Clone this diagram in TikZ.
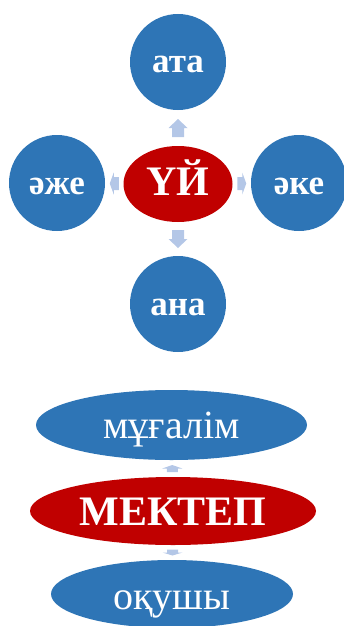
\documentclass[tikz,border=0pt]{standalone}
\usepackage{fontspec}
\setmainfont{Liberation Serif}
\usetikzlibrary{shapes.geometric,calc}
\definecolor{nodeblue}{HTML}{2E75B6}
\definecolor{nodered}{HTML}{C00000}
\definecolor{arrowblue}{HTML}{B4C7E7}
\tikzset{
  circ/.style={circle,fill=nodeblue,minimum size=96pt,inner sep=0pt,text=white,
    text height=22pt,text depth=0pt,font=\bfseries\fontsize{35}{40}\selectfont},
  hub/.style={ellipse,fill=nodered,inner sep=0pt,text=white,text depth=0pt,
    font=\bfseries\fontsize{42}{48}\selectfont},
  oval/.style={ellipse,fill=nodeblue,inner sep=0pt,text=white,text depth=0pt,
    font=\fontsize{40}{46}\selectfont},
  pics/barrow/.style args={#1/#2/#3/#4}{code={
    \fill[arrowblue] ({-#1/2},{-#4/2}) -- ({#1/2-#2},{-#4/2}) -- ({#1/2-#2},{-#3/2})
      -- ({#1/2},0) -- ({#1/2-#2},{#3/2}) -- ({#1/2-#2},{#4/2}) -- ({-#1/2},{#4/2}) -- cycle;
  }}
}
\begin{document}
\begin{tikzpicture}[x=1pt,y=-1pt]
\useasboundingbox (0,0) rectangle (344,626);
% family part
\node[hub,text height=22pt,minimum width=109pt,minimum height=76pt] (uy) at (178,184) {ҮЙ};
\node[circ] (ata) at (178,62) {ата};
\node[circ] (aje) at (57,183) {әже};
\node[circ] (ake) at (299,183) {әке};
\node[circ] (ana) at (178,304) {ана};
\pic[rotate=90] at ($(uy.north)!0.5!(ata.south)$) {barrow=18/9/19/12};
\pic[rotate=-90] at ($(uy.south)!0.5!(ana.north)$) {barrow=18/9/19/12};
\pic[rotate=180] at ($(uy.west)!0.5!(aje.east)$) {barrow=9/4/22/13};
\pic at ($(uy.east)!0.5!(ake.west)$) {barrow=9/4/22/13};
% school part
\node[oval,text height=26pt,minimum width=271pt,minimum height=70pt] (mug) at (171.5,425) {мұғалім};
\node[hub,text height=28pt,minimum width=286pt,minimum height=68pt] (mek) at (173,511) {МЕКТЕП};
\node[oval,text height=30pt,minimum width=242pt,minimum height=68pt] (oqu) at (172,594) {оқушы};
\pic[rotate=90] at ($(mek.north)!0.5!(mug.south)$) {barrow=7/3.5/20/11};
\pic[rotate=-90] at ($(mek.south)!0.5!(oqu.north)$) {barrow=6/3/20/11};
\end{tikzpicture}
\end{document}
